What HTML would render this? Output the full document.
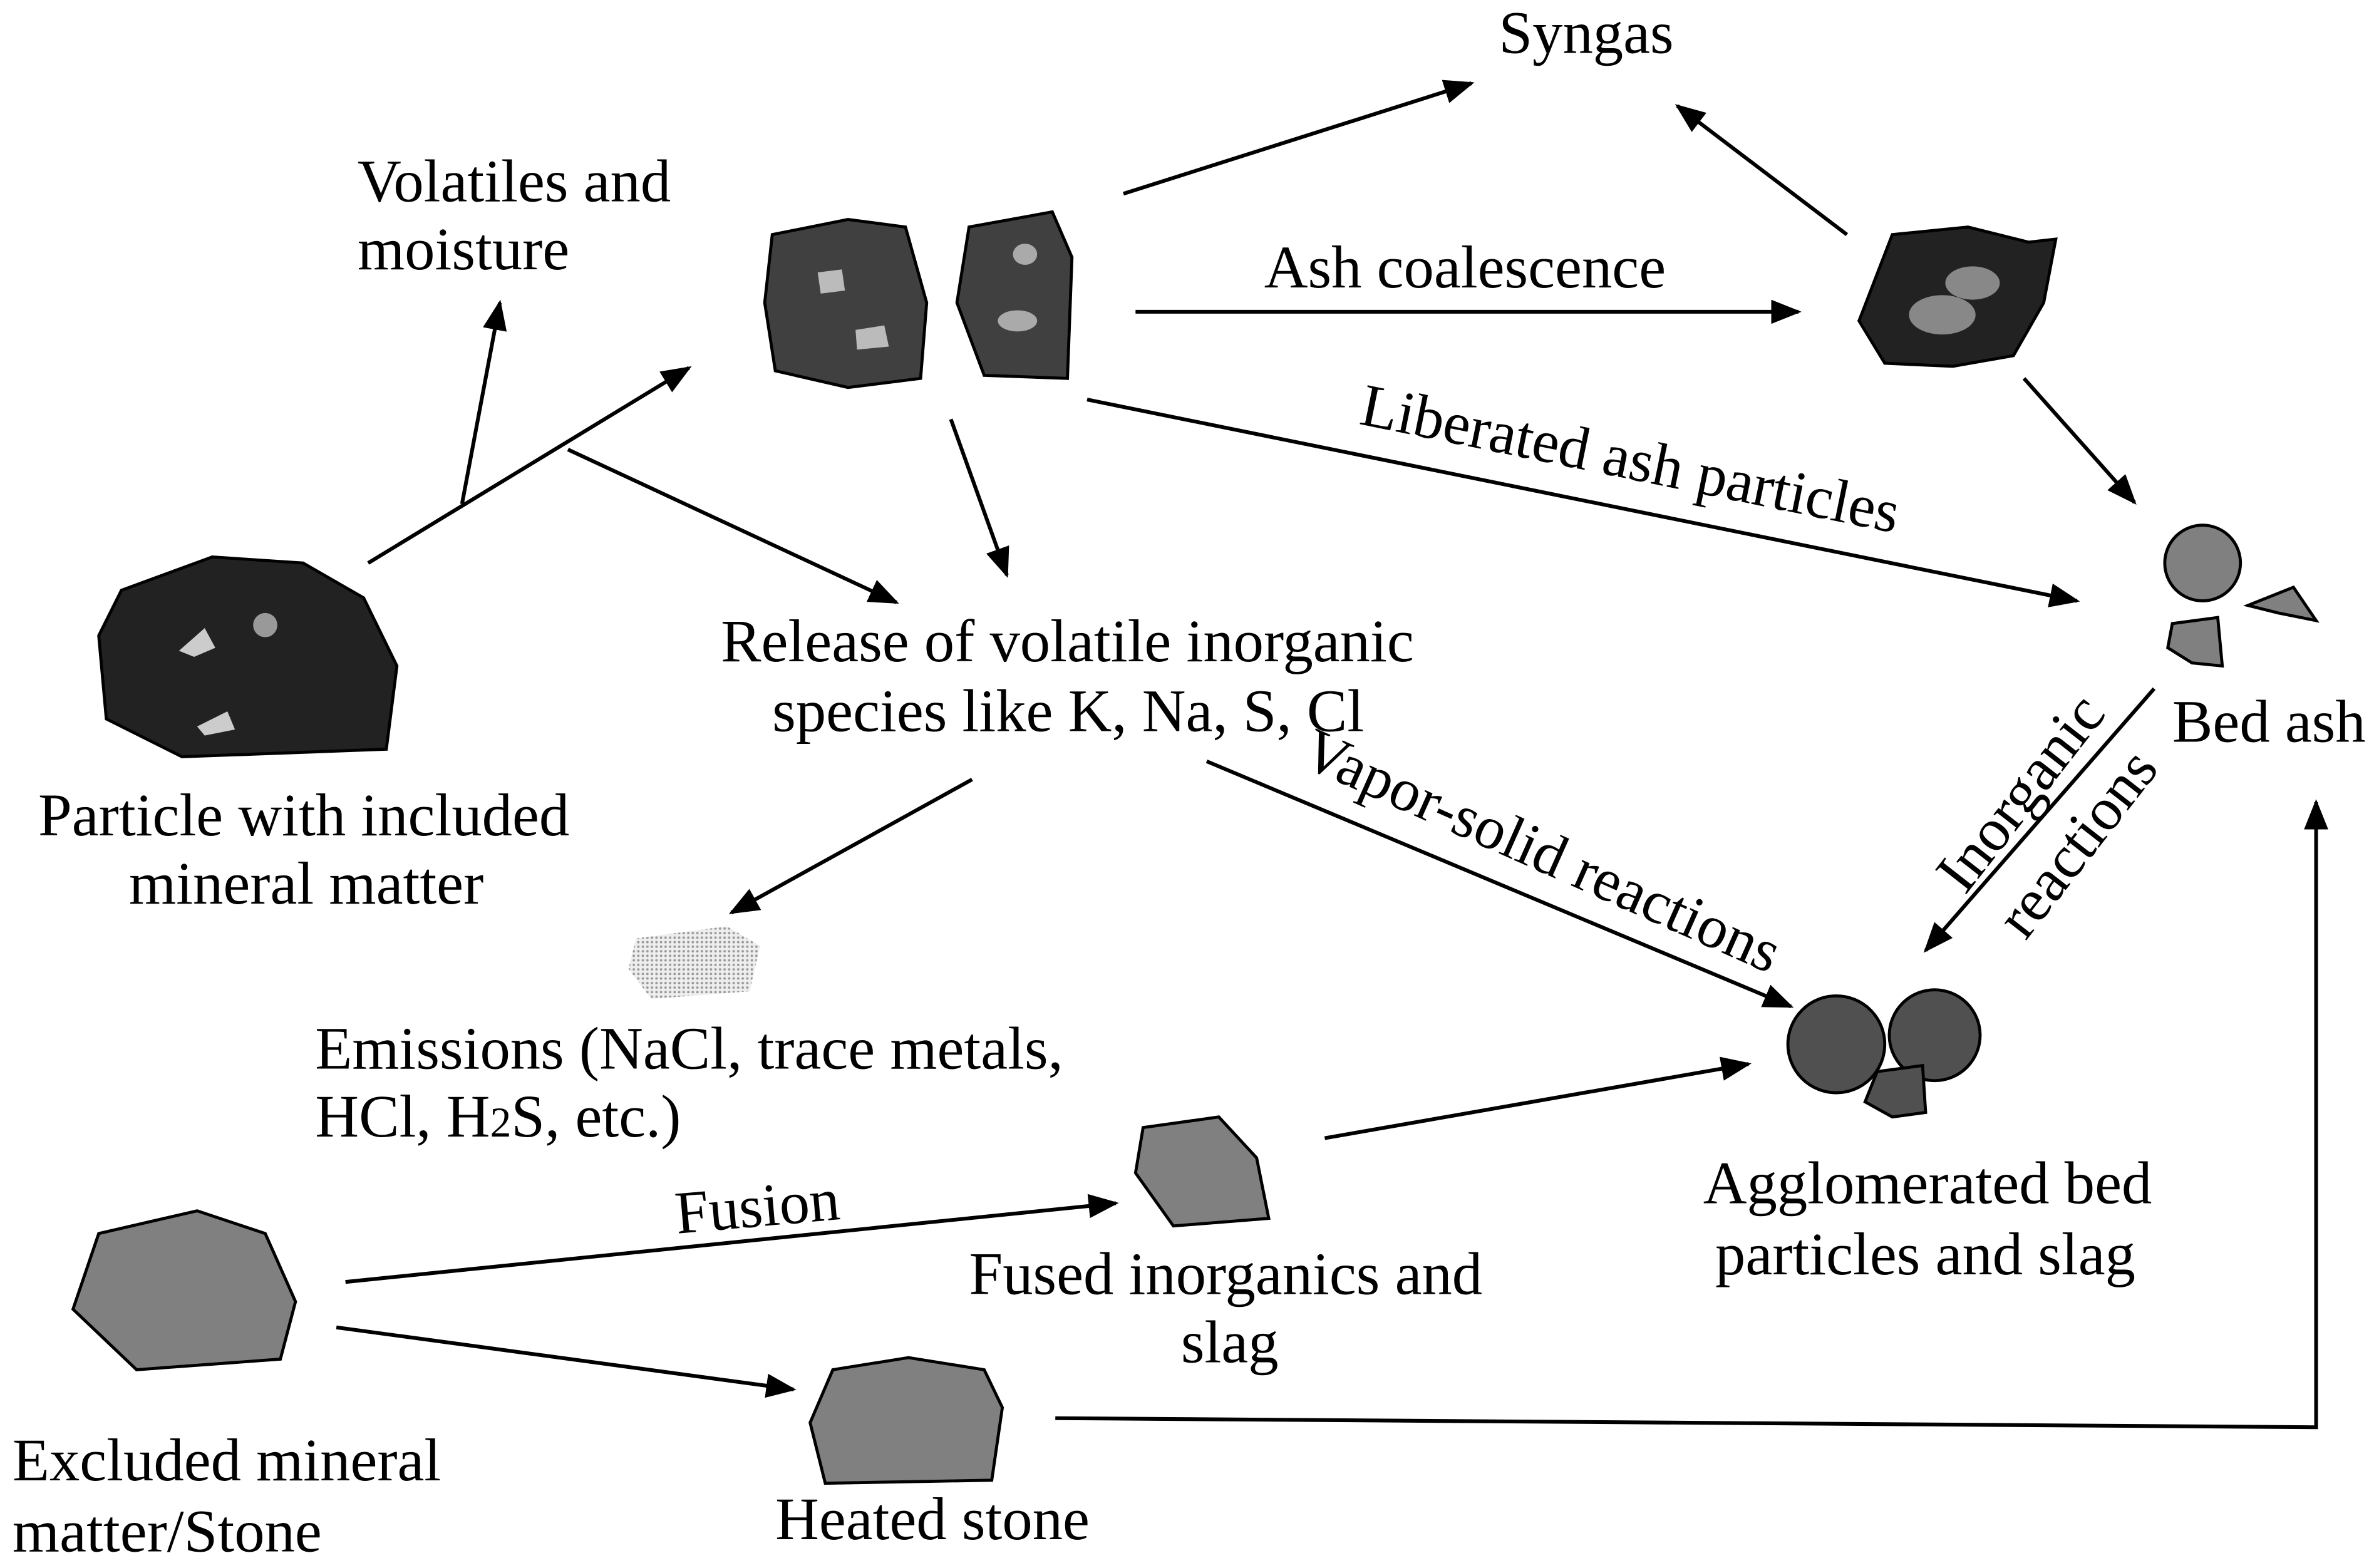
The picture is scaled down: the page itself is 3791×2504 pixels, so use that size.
<!DOCTYPE html>
<html><head><meta charset="utf-8"><style>
html,body{margin:0;padding:0;background:#fff;}
svg{display:block;}
text{font-family:"Liberation Serif",serif;font-size:40px;fill:#000;}
</style></head><body>
<svg width="3791" height="2504" viewBox="0 0 1568 1036" xmlns="http://www.w3.org/2000/svg">
<defs>
<marker id="b" markerWidth="20" markerHeight="16" refX="18" refY="8" orient="auto" markerUnits="userSpaceOnUse" viewBox="0 0 20 16">
<path d="M0,0 L20,8 L0,16 z" fill="#000"/></marker>
<pattern id="dots" width="3" height="3" patternUnits="userSpaceOnUse"><rect width="3" height="3" fill="#eee"/><circle cx="1.5" cy="1.5" r="0.8" fill="#999"/></pattern>
</defs>
<g stroke="#000" stroke-width="2.5" fill="none" marker-end="url(#b)">
<line x1="742" y1="128" x2="972" y2="55"/>
<line x1="750" y1="206" x2="1188" y2="206"/>
<line x1="1220" y1="155" x2="1108" y2="70"/>
<line x1="1337" y1="250" x2="1410" y2="332"/>
<line x1="718" y1="264" x2="1372" y2="397"/>
<line x1="243" y1="372" x2="455" y2="243"/>
<line x1="305" y1="333" x2="330" y2="200"/>
<line x1="375" y1="297" x2="592" y2="398"/>
<line x1="628" y1="277" x2="665" y2="380"/>
<line x1="642" y1="515" x2="483" y2="603"/>
<line x1="797" y1="503" x2="1183" y2="665"/>
<line x1="1423" y1="455" x2="1272" y2="628"/>
<line x1="875" y1="752" x2="1155" y2="703"/>
<line x1="228" y1="847" x2="737" y2="795"/>
<line x1="222" y1="877" x2="524" y2="918"/>
<polyline points="697,937 1530,943 1530,530"/>
</g>
<path d="M510,155 L560,145 L598,150 L612,200 L608,250 L560,256 L512,245 L505,200 Z" fill="#404040" stroke="#000" stroke-width="2"/>
<path d="M540,180 L556,178 L558,192 L542,194 Z" fill="#bbb"/>
<path d="M565,218 L584,215 L587,229 L566,231 Z" fill="#bbb"/>
<path d="M640,150 L695,140 L708,170 L705,250 L650,248 L632,200 Z" fill="#404040" stroke="#000" stroke-width="2"/>
<ellipse cx="677" cy="168" rx="8" ry="7" fill="#aaa"/>
<ellipse cx="672" cy="212" rx="13" ry="7" fill="#aaa"/>
<path d="M1250,155 L1300,150 L1340,160 L1358,158 L1350,200 L1330,235 L1290,242 L1245,240 L1228,212 Z" fill="#222" stroke="#000" stroke-width="2"/>
<ellipse cx="1303" cy="187" rx="18" ry="11" fill="#888"/>
<ellipse cx="1283" cy="208" rx="22" ry="13" fill="#888"/>
<path d="M80,390 L140,368 L200,372 L240,395 L262,440 L255,495 L120,500 L70,475 L65,420 Z" fill="#222" stroke="#000" stroke-width="2"/>
<path d="M118,430 L135,415 L142,428 L128,434 Z" fill="#ccc"/>
<circle cx="175" cy="413" r="8" fill="#999"/>
<path d="M130,480 L150,470 L155,482 L135,486 Z" fill="#ccc"/>
<circle cx="1455" cy="372" r="25" fill="#808080" stroke="#000" stroke-width="2"/>
<path d="M1485,400 L1515,388 L1530,410 L1505,405 Z" fill="#808080" stroke="#000" stroke-width="2"/>
<path d="M1435,412 L1465,408 L1468,440 L1448,438 L1432,428 Z" fill="#808080" stroke="#000" stroke-width="2"/>
<path d="M420,620 L480,612 L502,625 L495,655 L430,660 L415,640 Z" fill="url(#dots)"/>
<circle cx="1213" cy="690" r="32" fill="#505050" stroke="#000" stroke-width="2"/>
<circle cx="1278" cy="684" r="30" fill="#505050" stroke="#000" stroke-width="2"/>
<path d="M1240,708 L1270,704 L1272,735 L1250,738 L1232,728 Z" fill="#505050" stroke="#000" stroke-width="2"/>
<path d="M755,745 L805,738 L830,765 L838,805 L775,810 L750,775 Z" fill="#808080" stroke="#000" stroke-width="2"/>
<path d="M65,815 L130,800 L175,815 L195,860 L185,898 L90,905 L48,865 Z" fill="#808080" stroke="#000" stroke-width="2"/>
<path d="M550,905 L600,897 L650,905 L662,930 L655,978 L545,980 L535,940 Z" fill="#808080" stroke="#000" stroke-width="2"/>
<text x="990" y="35">Syngas</text>
<text x="236" y="133">Volatiles and</text>
<text x="236" y="178">moisture</text>
<text x="835" y="190">Ash coalescence</text>
<text x="897" y="280" font-size="38" transform="rotate(11.5 897 280)">Liberated ash particles</text>
<text x="476" y="437">Release of volatile inorganic</text>
<text x="510" y="483">species like K, Na, S, Cl</text>
<text x="25" y="552">Particle with included</text>
<text x="85" y="597">mineral matter</text>
<text x="1435" y="490">Bed ash</text>
<text x="858" y="505" font-size="38" transform="rotate(24 858 505)">Vapor-solid reactions</text>
<text x="1298" y="592" transform="rotate(-52 1298 592)">Inorganic</text>
<text x="1338" y="622" transform="rotate(-52 1338 622)">reactions</text>
<text x="208" y="706">Emissions (NaCl, trace metals,</text>
<text x="208" y="751">HCl, H<tspan font-size="28">2</tspan>S, etc.)</text>
<text x="1125" y="795">Agglomerated bed</text>
<text x="1133" y="842">particles and slag</text>
<text x="447" y="815" font-size="33" transform="rotate(-5 447 815)">Fusion</text>
<text x="640" y="855">Fused inorganics and</text>
<text x="780" y="900">slag</text>
<text x="8" y="978">Excluded mineral</text>
<text x="8" y="1025">matter/Stone</text>
<text x="512" y="1017">Heated stone</text>
</svg>
</body></html>
